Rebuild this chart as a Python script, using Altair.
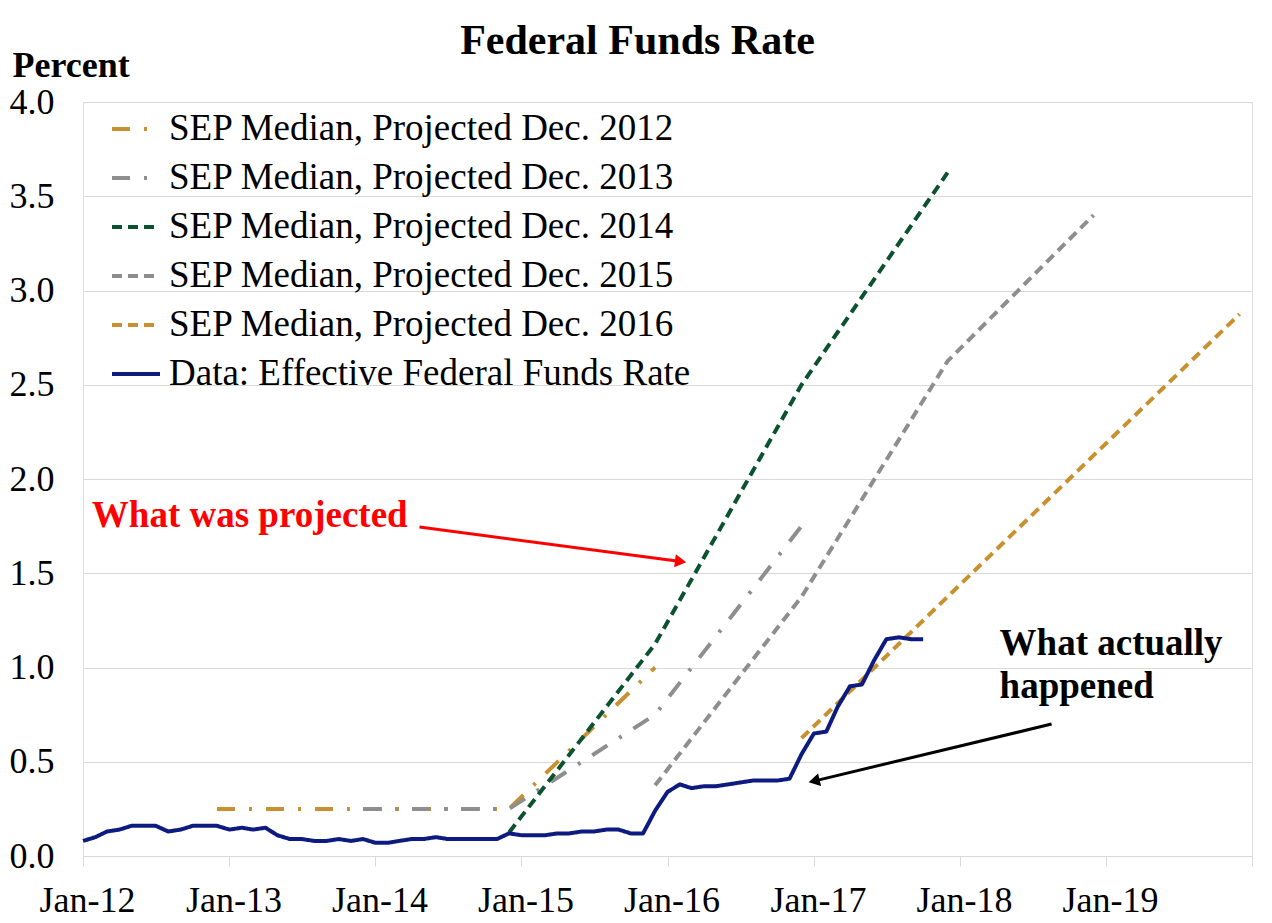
import altair as alt
import pandas as pd

# ---------------- data ----------------
# Effective federal funds rate, monthly, Jan-2012 .. Oct-2017
effr_start = "2012-01-01"
effr_values = [
    0.08, 0.10, 0.13, 0.14, 0.16, 0.16, 0.16, 0.13, 0.14, 0.16, 0.16, 0.16,
    0.14, 0.15, 0.14, 0.15, 0.11, 0.09, 0.09, 0.08, 0.08, 0.09, 0.08, 0.09,
    0.07, 0.07, 0.08, 0.09, 0.09, 0.10, 0.09, 0.09, 0.09, 0.09, 0.09, 0.12,
    0.11, 0.11, 0.11, 0.12, 0.12, 0.13, 0.13, 0.14, 0.14, 0.12, 0.12, 0.24,
    0.34, 0.38, 0.36, 0.37, 0.37, 0.38, 0.39, 0.40, 0.40, 0.40, 0.41, 0.54,
    0.65, 0.66, 0.79, 0.90, 0.91, 1.04, 1.15, 1.16, 1.15, 1.15,
]

# SEP median projections (year-end points)
sep12_dates = ["2012-12-01", "2014-12-01", "2015-12-01"]
sep12_values = [0.25, 0.25, 1.00]
sep13_dates = ["2013-12-01", "2014-12-01", "2015-12-01", "2016-12-01"]
sep13_values = [0.25, 0.25, 0.75, 1.75]
sep14_dates = ["2014-12-01", "2015-12-01", "2016-12-01", "2017-12-01"]
sep14_values = [0.125, 1.125, 2.50, 3.625]
sep15_dates = ["2015-12-01", "2016-12-01", "2017-12-01", "2018-12-01"]
sep15_values = [0.375, 1.375, 2.625, 3.40]
sep16_dates = ["2016-12-01", "2017-12-01", "2018-12-01", "2019-12-01"]
sep16_values = [0.625, 1.375, 2.125, 2.875]

series_names = [
    "SEP Median, Projected Dec. 2012",
    "SEP Median, Projected Dec. 2013",
    "SEP Median, Projected Dec. 2014",
    "SEP Median, Projected Dec. 2015",
    "SEP Median, Projected Dec. 2016",
    "Data: Effective Federal Funds Rate",
]
series_colors = ["#C8902F", "#8E8E8E", "#0B5230", "#8E8E8E", "#C8902F", "#0D1A80"]
series_dashes = [[18, 14, 3, 14], [18, 14, 3, 14], [10, 6], [10, 6], [10, 6], [1, 0]]
series_widths = [4, 4, 4, 4, 4, 6]

y_ticks = [0.0, 0.5, 1.0, 1.5, 2.0, 2.5, 3.0, 3.5, 4.0]
x_tick_years = [2012, 2013, 2014, 2015, 2016, 2017, 2018, 2019, 2020]

# annotations
proj_text = ["What was projected"]
proj_date = ["2012-01-23"]
proj_value = [1.745]
actual_text = ["What actually", "happened"]
actual_date = ["2018-04-10", "2018-04-10"]
actual_value = [1.066, 0.838]

red_arrow = {"x0": ["2014-04-21"], "y0": [1.745], "x1": ["2016-01-29"], "y1": [1.564]}
black_arrow = {"x0": ["2018-08-18"], "y0": [0.700], "x1": ["2017-01-06"], "y1": [0.400]}

# ---------------- tables ----------------
effr_dates = pd.date_range(effr_start, periods=len(effr_values), freq="MS").strftime("%Y-%m-%d")
rows = []
for name, ds, vs in [
    (series_names[0], sep12_dates, sep12_values),
    (series_names[1], sep13_dates, sep13_values),
    (series_names[2], sep14_dates, sep14_values),
    (series_names[3], sep15_dates, sep15_values),
    (series_names[4], sep16_dates, sep16_values),
]:
    for d, v in zip(ds, vs):
        rows.append({"date": d, "value": v, "series": name})
sep_df = pd.DataFrame(rows)
effr_df = pd.DataFrame({"date": list(effr_dates), "value": effr_values, "series": series_names[5]})

FONT = "Liberation Serif"

legend = alt.Legend(
    title=None, orient="none", legendX=27, legendY=1, direction="vertical",
    symbolType="stroke", symbolSize=2304, symbolStrokeWidth=4.5,
    labelFont=FONT, labelFontSize=37, labelColor="black", labelOffset=7,
    labelLimit=0, rowPadding=5, padding=0,
)

x_enc = alt.X(
    "date:T",
    scale=alt.Scale(
        type="utc",
        domain=[alt.DateTime(year=2012, month=1, date=1, utc=True),
                alt.DateTime(year=2020, month=1, date=1, utc=True)],
    ),
    axis=alt.Axis(
        title=None,
        values=[alt.DateTime(year=y, month=1, date=1, utc=True) for y in x_tick_years],
        labelExpr="utcFormat(datum.value, '%Y') == '2020' ? '' : utcFormat(datum.value, '%b-%y')",
        grid=False, domainColor="#D9D9D9", domainWidth=1,
        tickColor="#D9D9D9", tickSize=10, tickWidth=1,
        labelFont=FONT, labelFontSize=36, labelColor="black", labelFlush=False,
        labelBaseline="alphabetic", labelPadding=45, labelOffset=4,
    ),
)
y_enc = alt.Y(
    "value:Q",
    scale=alt.Scale(domain=[0, 4], nice=False),
    axis=alt.Axis(
        values=y_ticks, format=".1f", grid=True, gridColor="#D9D9D9", gridWidth=1,
        domain=False, ticks=False, tickSize=0, labelPadding=29,
        labelFont=FONT, labelFontSize=36, labelColor="black",
        title="Percent", titleAngle=0, titleX=-71, titleY=-26, titleAlign="left",
        titleBaseline="alphabetic", titleFont=FONT, titleFontSize=36,
        titleFontWeight="bold", titleColor="black",
    ),
)
color_enc = alt.Color("series:N", scale=alt.Scale(domain=series_names, range=series_colors), legend=legend)
dash_enc = alt.StrokeDash("series:N", scale=alt.Scale(domain=series_names, range=series_dashes), legend=legend)
width_enc = alt.StrokeWidth("series:N", scale=alt.Scale(domain=series_names, range=series_widths), legend=None)

sep_lines = alt.Chart(sep_df).mark_line(strokeCap="butt").encode(
    x=x_enc, y=y_enc, color=color_enc, strokeDash=dash_enc, strokeWidth=width_enc,
    order=alt.Order("date:T"),
)
effr_line = alt.Chart(effr_df).mark_line(strokeJoin="round").encode(
    x=x_enc, y=y_enc, color=color_enc, strokeDash=dash_enc, strokeWidth=width_enc,
)

proj_df = pd.DataFrame({"date": proj_date, "value": proj_value, "text": proj_text})
proj_label = alt.Chart(proj_df).mark_text(
    align="left", baseline="alphabetic", font=FONT, fontSize=37, fontWeight="bold", color="#FF0000"
).encode(x="date:T", y="value:Q", text="text:N")

act_df = pd.DataFrame({"date": actual_date, "value": actual_value, "text": actual_text})
act_label = alt.Chart(act_df).mark_text(
    align="left", baseline="alphabetic", font=FONT, fontSize=37, fontWeight="bold", color="black"
).encode(x="date:T", y="value:Q", text="text:N")

red_df = pd.DataFrame(red_arrow)
red_rule = alt.Chart(red_df).mark_rule(color="#FF0000", strokeWidth=3).encode(
    x="x0:T", x2="x1:T", y="y0:Q", y2="y1:Q")
red_head = alt.Chart(red_df).mark_point(
    shape="triangle", filled=True, size=170, color="#FF0000", opacity=1, angle=97.5
).encode(x="x1:T", y="y1:Q")

blk_df = pd.DataFrame(black_arrow)
blk_rule = alt.Chart(blk_df).mark_rule(color="black", strokeWidth=3).encode(
    x="x0:T", x2="x1:T", y="y0:Q", y2="y1:Q")
blk_head = alt.Chart(blk_df).mark_point(
    shape="triangle", filled=True, size=170, color="black", opacity=1, angle=256.5
).encode(x="x1:T", y="y1:Q")

chart = alt.layer(
    sep_lines, effr_line, proj_label, red_rule, red_head, act_label, blk_rule, blk_head
).properties(
    width=1169, height=754,
    title=alt.TitleParams(
        "Federal Funds Rate", font=FONT, fontSize=42, fontWeight="bold", color="black",
        anchor="middle", dx=-30, dy=20,
    ),
    autosize=alt.AutoSizeParams(type="none"),
    padding={"left": 75, "top": 94, "right": 8, "bottom": 64},
).configure_view(stroke=None).configure(background="white")

chart.save("out.html", embed_options={"renderer": "svg", "actions": False})
